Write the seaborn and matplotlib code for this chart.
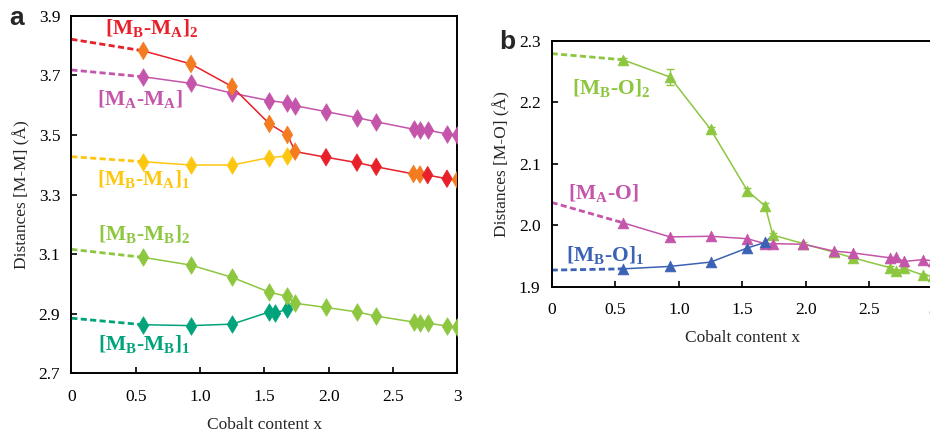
import numpy as np
import pandas as pd
import seaborn as sns
import matplotlib.pyplot as plt

# --- data ---
# panel a : metal-metal distances (diamonds)
x_a = [0.56, 0.93, 1.25, 1.54, 1.68, 1.74, 1.98, 2.22, 2.37, 2.66, 2.71, 2.77, 2.92, 3.0]
mbma2 = [3.782, 3.738, 3.662, 3.537, 3.500, 3.444, 3.425, 3.407, 3.393, 3.369, 3.367, 3.365, 3.353, 3.349]
mbma2_col = ['o', 'o', 'o', 'o', 'o', 'o', 'r', 'r', 'r', 'o', 'o', 'r', 'r', 'o']
mama = [3.695, 3.673, 3.640, 3.615, 3.607, 3.598, 3.578, 3.558, 3.544, 3.519, 3.518, 3.516, 3.503, 3.500]
x_mbma1 = [0.56, 0.93, 1.25, 1.54, 1.68]
mbma1 = [3.410, 3.399, 3.399, 3.424, 3.429]
mbmb2 = [3.089, 3.063, 3.022, 2.972, 2.958, 2.935, 2.921, 2.906, 2.892, 2.872, 2.869, 2.868, 2.859, 2.855]
x_mbmb1 = [0.56, 0.93, 1.25, 1.54, 1.58, 1.68]
mbmb1 = [2.863, 2.860, 2.865, 2.906, 2.902, 2.915]
# values extrapolated to x = 0 (dashed)
y0_a = {'mbma2': 3.821, 'mama': 3.718, 'mbma1': 3.427, 'mbmb2': 3.116, 'mbmb1': 2.885}

# panel b : metal-oxygen distances (triangles)
x_b = [0.56, 0.93, 1.25, 1.54, 1.68, 1.74, 1.98, 2.22, 2.37, 2.66, 2.71, 2.77, 2.92, 3.0]
mbo2 = [2.269, 2.241, 2.156, 2.056, 2.031, 1.984, 1.970, 1.956, 1.947, 1.931, 1.925, 1.930, 1.919, 1.917]
mbo2_err = [0.003, 0.013, 0.003, 0.004, 0.005, 0.003, 0.002, 0.002, 0.002, 0.002, 0.002, 0.002, 0.002, 0.002]
mao = [2.004, 1.981, 1.982, 1.978, 1.970, 1.970, 1.969, 1.958, 1.955, 1.947, 1.948, 1.941, 1.944, 1.942]
x_mbo1 = [0.56, 0.93, 1.25, 1.54, 1.68]
mbo1 = [1.929, 1.933, 1.940, 1.963, 1.972]
y0_b = {'mbo2': 2.279, 'mao': 2.037, 'mbo1': 1.927}

xticks = [0, 0.5, 1.0, 1.5, 2.0, 2.5, 3]
xtick_labels = ['0', '0.5', '1.0', '1.5', '2.0', '2.5', '3']

# --- colours ---
RED = '#e8202a'
ORANGE = '#f47b20'
PINK = '#c455aa'
YELLOW = '#fdc70f'
LGREEN = '#8dc63f'
DGREEN = '#00a37a'
BLUE = '#3b62b4'

sns.set_style('ticks')
plt.rcParams['font.family'] = ['Liberation Serif', 'DejaVu Serif']
plt.rcParams['mathtext.fontset'] = 'custom'
plt.rcParams['mathtext.rm'] = 'Liberation Serif'
plt.rcParams['mathtext.bf'] = 'Liberation Serif:bold'
plt.rcParams['xtick.direction'] = 'in'
plt.rcParams['ytick.direction'] = 'in'

fig = plt.figure(figsize=(9.3, 4.4), dpi=100)
ax_a = fig.add_axes([0.0767, 0.1516, 0.415, 0.8127])
ax_b = fig.add_axes([0.5932, 0.3484, 0.410, 0.5591])


def serie(ax, x, y, color, marker, ms, y0, join=None, mcolors=None):
    """solid line with markers plus the dashed extension to x=0"""
    xs, ys = list(x), list(y)
    if join is not None:
        xs = xs + [join[0]]
        ys = ys + [join[1]]
    sns.lineplot(x=xs, y=ys, ax=ax, color=color, lw=1.1, sort=False, estimator=None)
    sns.lineplot(x=[0, x[0]], y=[y0, y[0]], ax=ax, color=color, lw=2.0,
                 linestyle=(0, (2.2, 1.2)), estimator=None)
    if mcolors is None:
        sns.scatterplot(x=x, y=y, ax=ax, color=color, marker=marker, s=ms,
                        edgecolor=color, linewidth=0.5, zorder=3)
    else:
        df = pd.DataFrame({'x': x, 'y': y, 'c': mcolors})
        sns.scatterplot(data=df, x='x', y='y', hue='c', palette={'o': ORANGE, 'r': RED},
                        ax=ax, marker=marker, s=ms, linewidth=0.5, legend=False, zorder=3)
        for coll in ax.collections[-1:]:
            coll.set_edgecolor(coll.get_facecolor())


# panel a
serie(ax_a, x_a, mama, PINK, 'd', 80, y0_a['mama'])
serie(ax_a, x_mbma1, mbma1, YELLOW, 'd', 80, y0_a['mbma1'], join=(x_a[5], mbma2[5]))
serie(ax_a, x_a, mbma2, RED, 'd', 80, y0_a['mbma2'], mcolors=mbma2_col)
serie(ax_a, x_mbmb1, mbmb1, DGREEN, 'd', 80, y0_a['mbmb1'], join=(x_a[5], mbmb2[5]))
serie(ax_a, x_a, mbmb2, LGREEN, 'd', 80, y0_a['mbmb2'])

# panel b
ax_b.errorbar(x_b, mbo2, yerr=mbo2_err, fmt='none', ecolor=LGREEN, elinewidth=1.0,
              capsize=3, capthick=1.0, zorder=2)
serie(ax_b, x_b, mbo2, LGREEN, '^', 60, y0_b['mbo2'])
serie(ax_b, x_b, mao, PINK, '^', 60, y0_b['mao'])
serie(ax_b, x_mbo1, mbo1, BLUE, '^', 60, y0_b['mbo1'], join=(x_b[5], mbo2[5]))

lab_kw = dict(fontsize=15.5, fontweight='bold', ha='left', va='center')
ax_a.text(0.26, 3.857, r'[M$_\mathbf{B}$-M$_\mathbf{A}$]$_\mathbf{2}$', color=RED, **lab_kw)
ax_a.text(0.20, 3.618, r'[M$_\mathbf{A}$-M$_\mathbf{A}$]', color=PINK, **lab_kw)
ax_a.text(0.20, 3.350, r'[M$_\mathbf{B}$-M$_\mathbf{A}$]$_\mathbf{1}$', color=YELLOW, **lab_kw)
ax_a.text(0.21, 3.164, r'[M$_\mathbf{B}$-M$_\mathbf{B}$]$_\mathbf{2}$', color=LGREEN, **lab_kw)
ax_a.text(0.21, 2.795, r'[M$_\mathbf{B}$-M$_\mathbf{B}$]$_\mathbf{1}$', color=DGREEN, **lab_kw)

ax_b.text(0.16, 2.222, r'[M$_\mathbf{B}$-O]$_\mathbf{2}$', color=LGREEN, **lab_kw)
ax_b.text(0.13, 2.052, r'[M$_\mathbf{A}$-O]', color=PINK, **lab_kw)
ax_b.text(0.11, 1.950, r'[M$_\mathbf{B}$-O]$_\mathbf{1}$', color=BLUE, **lab_kw)

for ax in (ax_a, ax_b):
    ax.set_xlim(0, 3)
    ax.set_xticks(xticks)
    ax.set_xticklabels(xtick_labels)
    ax.tick_params(labelsize=12.5, length=4, width=1.2, colors='black')
    ax.tick_params(axis='x', pad=11)
    ax.tick_params(axis='y', pad=8)
    for sp in ax.spines.values():
        sp.set_linewidth(1.4)
        sp.set_color('black')
    ax.set_xlabel('Cobalt content x', fontsize=12.5, labelpad=9)

ax_a.set_ylim(2.7, 3.9)
ax_a.set_yticks([2.7, 2.9, 3.1, 3.3, 3.5, 3.7, 3.9])
ax_a.yaxis.set_major_formatter(plt.FuncFormatter(lambda v, _: f'{v:.1f}'))
ax_a.set_ylabel('Distances [M-M] (Å)', fontsize=12.5, labelpad=6)

ax_b.set_ylim(1.9, 2.3)
ax_b.set_yticks([1.9, 2.0, 2.1, 2.2, 2.3])
ax_b.yaxis.set_major_formatter(plt.FuncFormatter(lambda v, _: f'{v:.1f}'))
ax_b.set_ylabel('Distances [M-O] (Å)', fontsize=12.5, labelpad=6)

fig.text(0.018, 0.958, 'a', fontsize=19, fontweight='bold', family='Liberation Sans',
         ha='center', va='center')
fig.text(0.545, 0.905, 'b', fontsize=19, fontweight='bold', family='Liberation Sans',
         ha='center', va='center')

fig.savefig('out.png', dpi=100)
